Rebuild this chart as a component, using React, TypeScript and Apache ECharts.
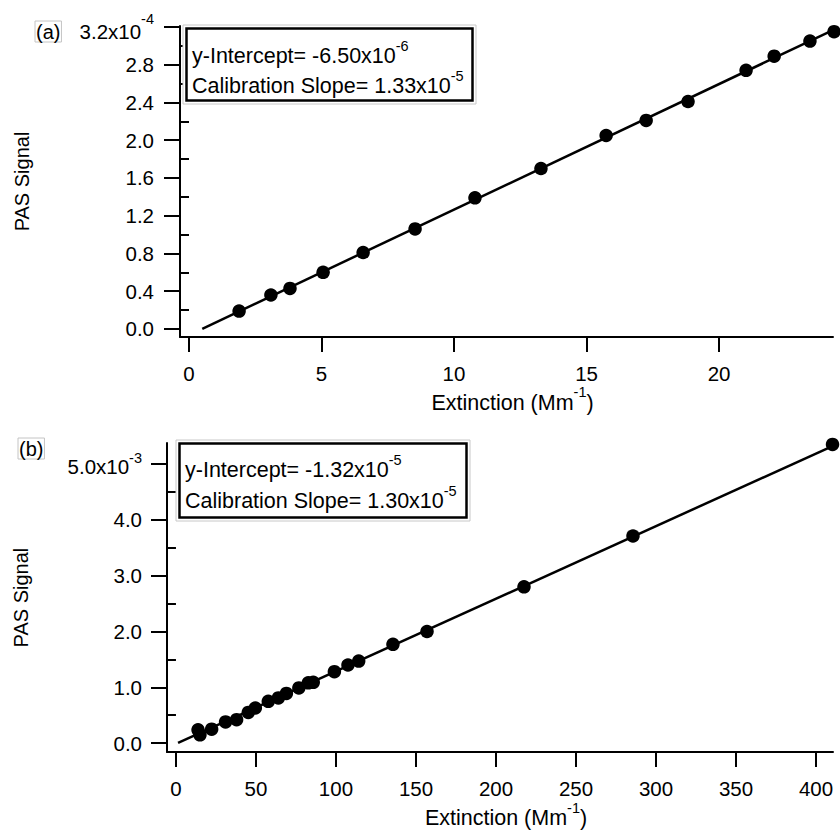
import React, { useEffect, useRef } from "react";
import * as echarts from "echarts";

// ---------- Panel (a) data: extinction (Mm^-1) vs PAS signal (in units of 1e-4) ----------
const extinctionA = [1.89, 3.09, 3.81, 5.06, 6.57, 8.53, 10.79, 13.28, 15.74, 17.25, 18.83, 21.02, 22.08, 23.43, 24.34];
const signalA = [0.19, 0.36, 0.43, 0.6, 0.81, 1.06, 1.39, 1.7, 2.05, 2.21, 2.41, 2.74, 2.89, 3.05, 3.15];
const interceptA = -0.065; // -6.50x10^-6 expressed in 1e-4 units
const slopeA = 0.133; // 1.33x10^-5 expressed in 1e-4 units per Mm^-1
const fitXA = [0.5, 24.34];
const yTicksA = [0, 0.4, 0.8, 1.2, 1.6, 2.0, 2.4, 2.8, 3.2];
const yMinorA = [0.2, 0.6, 1.0, 1.4, 1.8, 2.2, 2.6, 3.0];
const xTicksA = [0, 5, 10, 15, 20];

// ---------- Panel (b) data: extinction (Mm^-1) vs PAS signal (in units of 1e-3) ----------
const extinctionB = [13.8, 15, 22.3, 31, 37.9, 45.2, 49.6, 57.7, 64, 69, 76.8, 82.7, 85.8, 99, 107.5, 114.2, 135.6, 156.9, 217.5, 285.6, 410.3];
const signalB = [0.24, 0.15, 0.25, 0.38, 0.42, 0.55, 0.63, 0.75, 0.81, 0.89, 0.99, 1.08, 1.09, 1.28, 1.4, 1.47, 1.77, 2.0, 2.8, 3.71, 5.35];
const interceptB = -0.0132; // -1.32x10^-5 expressed in 1e-3 units
const slopeB = 0.013; // 1.30x10^-5 expressed in 1e-3 units per Mm^-1
const fitXB = [1.3, 410.3];
const yTicksB = [0, 1, 2, 3, 4, 5];
const yMinorB = [0.5, 1.5, 2.5, 3.5, 4.5];
const xTicksB = [0, 50, 100, 150, 200, 250, 300, 350, 400];

const legendA = ["{b|y-Intercept= -6.50x10}{s|-6}", "{b|Calibration Slope= 1.33x10}{s|-5}"];
const legendB = ["{b|y-Intercept= -1.32x10}{s|-5}", "{b|Calibration Slope= 1.30x10}{s|-5}"];

const FONT = "'Liberation Sans', Arial, sans-serif";
const BLACK = "#000";
const TICK_FS = 20.5;
const SUP_FS = 14.5;

const lineStyle = { color: BLACK, width: 2 };

const xName = "{b|Extinction (Mm}{s|-1}{b|)}";
const nameRich = {
  b: { fontSize: 21.5, fontFamily: FONT, color: BLACK, lineHeight: 36, verticalAlign: "middle" },
  s: { fontSize: SUP_FS, fontFamily: FONT, color: BLACK, verticalAlign: "top" },
};

function xAxisOpt(gridIndex: number, min: number, max: number, ticks: number[]) {
  return {
    gridIndex,
    type: "value",
    min,
    max,
    axisLine: { show: true, onZero: false, lineStyle },
    axisTick: { show: true, inside: false, length: 15, lineStyle, customValues: ticks },
    axisLabel: { show: true, customValues: ticks, margin: 26, fontSize: TICK_FS, fontFamily: FONT, color: BLACK },
    splitLine: { show: false },
    name: xName,
    nameLocation: "middle",
    nameGap: 46,
    nameTextStyle: { fontSize: 21.5, fontFamily: FONT, color: BLACK, rich: nameRich, padding: [0, 0, 0, 12] },
  };
}

function yAxisMain(
  gridIndex: number,
  min: number,
  max: number,
  ticks: number[],
  topLabel: number,
  topText: string,
  lh: number,
  margin: number,
  nameGap: number
) {
  return {
    gridIndex,
    type: "value",
    position: "left",
    min,
    max,
    axisLine: { show: true, onZero: false, lineStyle },
    axisTick: { show: true, inside: false, length: 16, lineStyle, customValues: ticks },
    axisLabel: {
      show: true,
      customValues: ticks,
      margin,
      fontSize: TICK_FS,
      fontFamily: FONT,
      color: BLACK,
      formatter: (v: number) => (Math.abs(v - topLabel) < 1e-9 ? topText : v.toFixed(1)),
      rich: {
        b: { fontSize: TICK_FS, fontFamily: FONT, color: BLACK, lineHeight: lh, verticalAlign: "bottom" },
        s: { fontSize: SUP_FS, fontFamily: FONT, color: BLACK, verticalAlign: "top" },
      },
    },
    splitLine: { show: false },
    name: "PAS Signal",
    nameLocation: "middle",
    nameGap,
    nameTextStyle: { fontSize: 20, fontFamily: FONT, color: BLACK },
  };
}

function yAxisMinor(gridIndex: number, min: number, max: number, ticks: number[]) {
  return {
    gridIndex,
    type: "value",
    position: "left",
    min,
    max,
    axisLine: { show: false },
    axisTick: { show: true, inside: false, length: 9, lineStyle, customValues: ticks },
    axisLabel: { show: false },
    splitLine: { show: false },
  };
}

const legendRich = {
  b: { fontSize: 21.5, fontFamily: FONT, fill: BLACK, lineHeight: 36, verticalAlign: "middle" },
  s: { fontSize: SUP_FS, fontFamily: FONT, fill: BLACK, verticalAlign: "top" },
};

function legendBox(x: number, y: number, w: number, h: number, textX: number, lineY: number[], lines: string[]) {
  return [
    { type: "rect", shape: { x, y, width: w, height: h }, style: { fill: "#fff", stroke: "#c8c8c8", lineWidth: 1 }, z: 10 },
    {
      type: "rect",
      shape: { x: x + 3.5, y: y + 3.5, width: w - 7, height: h - 7 },
      style: { fill: "none", stroke: BLACK, lineWidth: 2.5 },
      z: 11,
    },
    ...lines.map((t, i) => ({
      type: "text",
      x: textX,
      y: lineY[i],
      z: 12,
      style: { text: t, rich: legendRich, fontSize: 21.5, fontFamily: FONT, fill: BLACK, align: "left", verticalAlign: "middle" },
    })),
  ];
}

function panelLabel(text: string, x: number, y: number) {
  return {
    type: "text",
    x,
    y,
    z: 12,
    style: {
      text,
      fontSize: 20,
      fontFamily: FONT,
      fill: BLACK,
      align: "left",
      verticalAlign: "middle",
      borderColor: "#c4c4c4",
      borderWidth: 1,
      padding: [1, 1, 0, 1],
    },
  };
}

const option = {
  animation: false,
  backgroundColor: "#fff",
  grid: [
    { left: 180, right: 7, top: 26, height: 311 },
    { left: 167, right: 7, top: 443, height: 310 },
  ],
  xAxis: [xAxisOpt(0, -0.34, 24.3, xTicksA), xAxisOpt(1, -5.6, 410.6, xTicksB)],
  yAxis: [
    yAxisMain(0, -0.085, 3.21, yTicksA, 3.2, "{b|3.2x10}{s|-4}", 30, 26, 148),
    yAxisMinor(0, -0.085, 3.21, yMinorA),
    yAxisMain(1, -0.16, 5.375, yTicksB, 5, "{b|5.0x10}{s|-3}", 26, 25, 136),
    yAxisMinor(1, -0.16, 5.375, yMinorB),
  ],
  series: [
    {
      type: "line",
      xAxisIndex: 0,
      yAxisIndex: 0,
      data: fitXA.map((x) => [x, slopeA * x + interceptA]),
      symbol: "none",
      lineStyle: { color: BLACK, width: 2.5 },
      z: 2,
    },
    {
      type: "scatter",
      xAxisIndex: 0,
      yAxisIndex: 0,
      data: extinctionA.map((x, i) => [x, signalA[i]]),
      symbolSize: 13.5,
      itemStyle: { color: BLACK, opacity: 1 },
      clip: false,
      z: 3,
    },
    {
      type: "line",
      xAxisIndex: 1,
      yAxisIndex: 2,
      data: fitXB.map((x) => [x, slopeB * x + interceptB]),
      symbol: "none",
      lineStyle: { color: BLACK, width: 2.5 },
      z: 2,
    },
    {
      type: "scatter",
      xAxisIndex: 1,
      yAxisIndex: 2,
      data: extinctionB.map((x, i) => [x, signalB[i]]),
      symbolSize: 13.5,
      itemStyle: { color: BLACK, opacity: 1 },
      clip: false,
      z: 3,
    },
  ],
  graphic: [
    panelLabel("(a)", 35, 31.5),
    panelLabel("(b)", 18, 448.5),
    ...legendBox(183, 25, 293, 79, 192, [56, 86], legendA),
    ...legendBox(176, 440, 294, 81, 185, [470, 501], legendB),
  ],
};

export default function App() {
  const ref = useRef<HTMLDivElement>(null);
  useEffect(() => {
    const chart = echarts.init(ref.current as HTMLDivElement, null, { renderer: "svg" });
    chart.setOption(option as any);
    return () => chart.dispose();
  }, []);
  return (
    <div
      ref={ref}
      style={{ position: "fixed", left: 0, top: 0, width: 840, height: 830, background: "#fff" }}
    />
  );
}
